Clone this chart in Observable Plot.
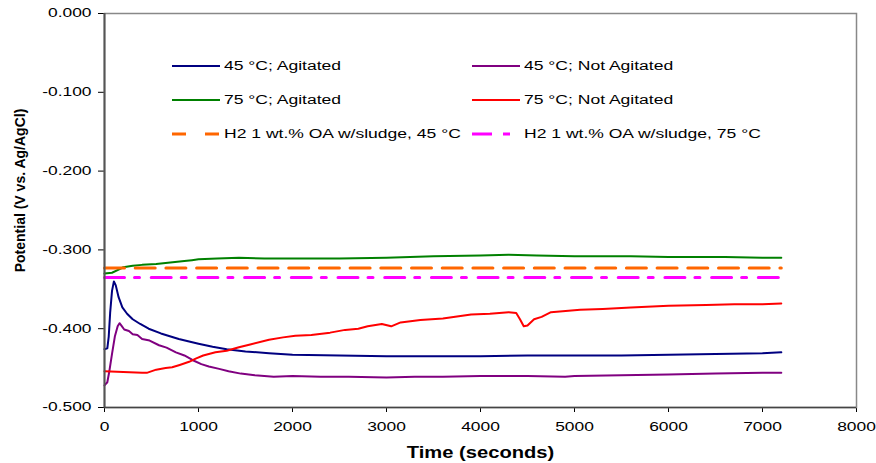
<!DOCTYPE html>
<html>
<head>
<meta charset="utf-8">
<script src="https://cdn.jsdelivr.net/npm/d3@7"></script>
<script src="https://cdn.jsdelivr.net/npm/@observablehq/plot@0.6"></script>
<style>
  body { margin: 0; background: #fff; }
  #wrap { position: relative; width: 876px; height: 463px; font-family: "Liberation Sans", Arial, sans-serif; background: #fff; }
  .leg { position: absolute; display: flex; align-items: center; height: 16px; white-space: nowrap; }
  .leg svg { display: block; }
  .leg span { display: inline-block; font-size: 12px; color: #000; transform: scaleX(1.46); transform-origin: left center; margin-left: 4px; }
</style>
</head>
<body>
<div id="wrap"></div>
<script>
// ---- data ----
const xTicks = [0, 1000, 2000, 3000, 4000, 5000, 6000, 7000, 8000];
const yTicks = [0, -0.1, -0.2, -0.3, -0.4, -0.5];

const seriesNames = [
  "45 °C; Agitated",
  "45 °C; Not Agitated",
  "75 °C; Agitated",
  "75 °C; Not Agitated",
  "H2 1 wt.% OA w/sludge, 45 °C",
  "H2 1 wt.% OA w/sludge, 75 °C"
];

const t45Agitated = [0, 30, 45, 60, 80, 100, 120, 150, 190, 240, 300, 380, 470, 600, 790, 1000, 1150, 1300, 1500, 1750, 2000, 2500, 3000, 3500, 4000, 4500, 5000, 5500, 6000, 6500, 7000, 7200];
const v45Agitated = [-0.426, -0.425, -0.41, -0.38, -0.352, -0.340, -0.345, -0.360, -0.373, -0.381, -0.388, -0.394, -0.400, -0.406, -0.413, -0.419, -0.423, -0.426, -0.429, -0.431, -0.433, -0.434, -0.435, -0.435, -0.435, -0.434, -0.434, -0.434, -0.433, -0.432, -0.431, -0.430];

const t45NotAgitated = [0, 30, 50, 80, 110, 140, 160, 180, 210, 260, 300, 350, 400, 480, 580, 660, 760, 850, 940, 1030, 1110, 1220, 1320, 1450, 1600, 1800, 2000, 2300, 2600, 3000, 3300, 3600, 4000, 4500, 4900, 5000, 5500, 6000, 6500, 7000, 7200];
const v45NotAgitated = [-0.472, -0.468, -0.455, -0.432, -0.410, -0.397, -0.393, -0.396, -0.401, -0.403, -0.407, -0.408, -0.413, -0.415, -0.421, -0.424, -0.430, -0.434, -0.440, -0.445, -0.448, -0.451, -0.454, -0.457, -0.459, -0.461, -0.460, -0.461, -0.461, -0.462, -0.461, -0.461, -0.460, -0.460, -0.461, -0.460, -0.459, -0.458, -0.457, -0.456, -0.456];

const t75Agitated = [0, 80, 150, 200, 300, 400, 550, 700, 850, 930, 1000, 1200, 1430, 1700, 2000, 2500, 3000, 3500, 4000, 4300, 4600, 5000, 5600, 6000, 6600, 7000, 7200];
const v75Agitated = [-0.330, -0.329, -0.325, -0.322, -0.320, -0.319, -0.318, -0.316, -0.314, -0.313, -0.312, -0.311, -0.310, -0.311, -0.311, -0.311, -0.310, -0.308, -0.307, -0.306, -0.307, -0.308, -0.308, -0.309, -0.309, -0.310, -0.310];

const t75NotAgitated = [0, 200, 400, 450, 550, 650, 720, 800, 900, 970, 1050, 1180, 1300, 1430, 1550, 1750, 1900, 2030, 2200, 2400, 2560, 2700, 2800, 2850, 2950, 3050, 3150, 3360, 3600, 3900, 4100, 4300, 4380, 4420, 4460, 4500, 4570, 4650, 4750, 5060, 5300, 5600, 6000, 6400, 6700, 7000, 7200];
const v75NotAgitated = [-0.454, -0.455, -0.456, -0.456, -0.452, -0.450, -0.449, -0.446, -0.442, -0.438, -0.434, -0.430, -0.428, -0.4235, -0.420, -0.414, -0.411, -0.409, -0.408, -0.405, -0.4015, -0.400, -0.397, -0.396, -0.394, -0.397, -0.392, -0.389, -0.387, -0.382, -0.381, -0.379, -0.380, -0.388, -0.397, -0.396, -0.388, -0.385, -0.379, -0.376, -0.375, -0.373, -0.371, -0.370, -0.369, -0.369, -0.368];

const tReference = [0, 7200];
const vRef45 = [-0.323, -0.323];
const vRef75 = [-0.335, -0.335];

// ---- build tables ----
const toRows = (ts, vs) => ts.map((t, i) => ({t, v: vs[i]}));
const lines = [
  {rows: toRows(t45Agitated, v45Agitated), stroke: "#000080", width: 2, dash: null},
  {rows: toRows(t45NotAgitated, v45NotAgitated), stroke: "#800080", width: 2, dash: null},
  {rows: toRows(t75Agitated, v75Agitated), stroke: "#008000", width: 2, dash: null},
  {rows: toRows(t75NotAgitated, v75NotAgitated), stroke: "#FF0000", width: 2, dash: null},
  {rows: toRows(tReference, vRef45), stroke: "#FF6600", width: 3, dash: "20,10.7"},
  {rows: toRows(tReference, vRef75), stroke: "#FF00FF", width: 3, dash: "20,10,5,11.7"}
];

const chart = Plot.plot({
  width: 876,
  height: 463,
  marginLeft: 104,
  marginRight: 20,
  marginTop: 13,
  marginBottom: 56,
  style: {fontFamily: "'Liberation Sans', Arial, sans-serif", fontSize: "12px", color: "#000", background: "#fff", overflow: "visible"},
  x: {domain: [0, 8000], ticks: xTicks, tickFormat: d => String(d), tickSize: 5, tickPadding: 10, label: null},
  y: {domain: [-0.5, 0], ticks: yTicks, tickFormat: d => d.toFixed(3), tickSize: 6, tickPadding: 7, label: null},
  marks: [
    Plot.frame({stroke: "#888", strokeWidth: 1.5}),
    ...lines.map(s => Plot.line(s.rows, {x: "t", y: "v", stroke: s.stroke, strokeWidth: s.width, strokeDasharray: s.dash})),
    Plot.ruleX([0], {stroke: "#555", strokeWidth: 2}),
    Plot.ruleY([-0.5], {stroke: "#444", strokeWidth: 1.5}),
    Plot.text(["Time (seconds)"], {frameAnchor: "bottom", textAnchor: "middle", lineAnchor: "middle", dy: 45, text: d => d, fontWeight: "bold", fontSize: 16, fill: "#000"}),
    Plot.text(["Potential (V vs. Ag/AgCl)"], {frameAnchor: "left", textAnchor: "middle", lineAnchor: "middle", dx: -84, dy: -20, rotate: -90, text: d => d, fontWeight: "bold", fontSize: 14, fill: "#000"})
  ]
});

const wrap = document.getElementById("wrap");
wrap.appendChild(chart);

// widen text horizontally like the reference rendering
function stretch(el, k) {
  const x = +el.getAttribute("x") || 0;
  const prev = el.getAttribute("transform") || "";
  el.setAttribute("transform", `${prev} translate(${x},0) scale(${k},1) translate(${-x},0)`);
}
chart.querySelectorAll('g[aria-label^="x-axis"] text, g[aria-label^="y-axis"] text').forEach(t => stretch(t, 1.45));
chart.querySelectorAll("text").forEach(t => { if (t.textContent === "Time (seconds)") stretch(t, 1.26); });

// ---- legend (HTML overlay inside plot area) ----
const legendLayout = [
  {left: 172, top: 58}, {left: 472, top: 58},
  {left: 172, top: 92}, {left: 472, top: 92},
  {left: 172, top: 126}, {left: 472, top: 126}
];
const legendDash = [null, null, null, null, "14,19", "20,11,7,10"];
seriesNames.forEach((name, i) => {
  const div = document.createElement("div");
  div.className = "leg";
  div.style.left = legendLayout[i].left + "px";
  div.style.top = legendLayout[i].top + "px";
  const sw = lines[i].width;
  const dash = legendDash[i] ? `stroke-dasharray="${legendDash[i]}"` : "";
  div.innerHTML = `<svg width="48" height="16"><line x1="0" x2="48" y1="8" y2="8" stroke="${lines[i].stroke}" stroke-width="${sw}" ${dash}/></svg><span>${name}</span>`;
  wrap.appendChild(div);
});
</script>
</body>
</html>
